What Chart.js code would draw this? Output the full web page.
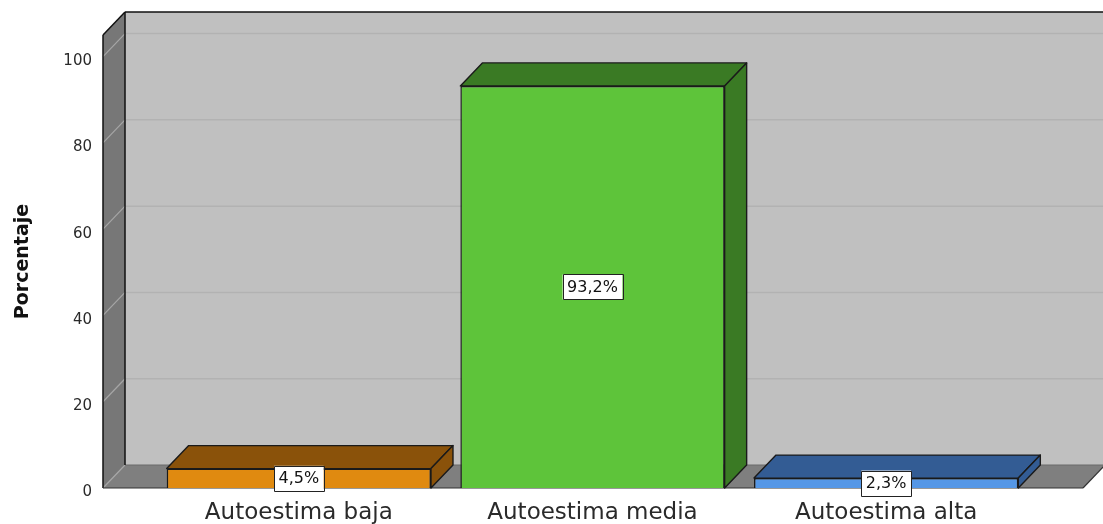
<!DOCTYPE html>
<html>
<head>
<meta charset="utf-8">
<script src="https://cdn.jsdelivr.net/npm/chart.js@4.4.1/dist/chart.umd.min.js"></script>
<style>
  html, body { margin: 0; padding: 0; background: #fff; }
  #wrap { width: 1103px; height: 524px; }
</style>
</head>
<body>
<div id="wrap"><canvas id="grafico" width="1103" height="524"></canvas></div>
<script>
const categorias = ['Autoestima baja', 'Autoestima media', 'Autoestima alta'];
const porcentajes = [4.5, 93.2, 2.3];
const ticksY = [0, 20, 40, 60, 80, 100];
const coloresFrente = ['#E08A10', '#5EC43A', '#5597E6'];
const coloresSombra = ['#8A520A', '#3A7A24', '#335C94'];

// profundidad del efecto 3D
const DX = 22, DY = 23;

function poly(ctx, pts, fill, stroke, lw) {
  ctx.beginPath();
  ctx.moveTo(pts[0][0], pts[0][1]);
  for (let i = 1; i < pts.length; i++) ctx.lineTo(pts[i][0], pts[i][1]);
  ctx.closePath();
  if (fill) { ctx.fillStyle = fill; ctx.fill(); }
  if (stroke) { ctx.strokeStyle = stroke; ctx.lineWidth = lw || 1; ctx.stroke(); }
}

function linea(ctx, xa, ya, xb, yb, color, lw) {
  ctx.beginPath();
  ctx.moveTo(xa, ya);
  ctx.lineTo(xb, yb);
  ctx.strokeStyle = color;
  ctx.lineWidth = lw;
  ctx.stroke();
}

const caja3d = {
  id: 'caja3d',
  beforeDatasetsDraw(chart) {
    const { ctx, chartArea: a, scales: { y } } = chart;
    const x0 = a.left - 49, x1 = a.right + 50;
    const yb = y.getPixelForValue(0), yt = a.top;
    const W = chart.width;
    ctx.save();
    // pared del fondo
    ctx.fillStyle = '#C0C0C0';
    ctx.fillRect(x0 + DX, yt - DY, W - x0 - DX, yb - yt);
    // pared lateral
    poly(ctx, [[x0, yt], [x0 + DX, yt - DY], [x0 + DX, yb - DY], [x0, yb]], '#777777');
    // suelo
    poly(ctx, [[x0, yb], [x1, yb], [x1 + DX, yb - DY], [x0 + DX, yb - DY]], '#7F7F7F');
    // lineas de cuadricula
    ticksY.forEach(v => {
      const py = y.getPixelForValue(v);
      if (v > 0) linea(ctx, x0 + DX, py - DY, W, py - DY, '#B2B2B2', 1.5);
      linea(ctx, x0, py, x0 + DX, py - DY, '#A6A6A6', 1.2);
    });
    linea(ctx, x0 + DX, yb - DY, W, yb - DY, '#6A6A6A', 1);
    // bordes
    ctx.lineJoin = 'round';
    linea(ctx, x0 + DX, yt - DY, W, yt - DY, '#111', 1.5);
    linea(ctx, x0, yt, x0 + DX, yt - DY, '#111', 1.5);
    linea(ctx, x0, yt, x0, yb, '#111', 1.5);
    linea(ctx, x0 + DX, yt - DY, x0 + DX, yb - DY, '#111', 1.5);
    linea(ctx, x0, yb, x1, yb, '#333', 1.2);
    linea(ctx, x1, yb, x1 + DX, yb - DY, '#333', 1.2);
    ctx.restore();
  },
  afterDatasetsDraw(chart) {
    const { ctx } = chart;
    const meta = chart.getDatasetMeta(0);
    ctx.save();
    ctx.lineJoin = 'round';
    meta.data.forEach((bar, i) => {
      const { x, y, base, width } = bar.getProps(['x', 'y', 'base', 'width'], true);
      const l = x - width / 2, r = x + width / 2;
      poly(ctx, [[l, y], [l + DX, y - DY], [r + DX, y - DY], [r, y]], coloresSombra[i], '#1a1a1a', 1.4);
      poly(ctx, [[r, y], [r + DX, y - DY], [r + DX, base - DY], [r, base]], coloresSombra[i], '#1a1a1a', 1.4);
    });
    // etiquetas de valor
    ctx.font = '16px "DejaVu Sans"';
    ctx.textAlign = 'center';
    ctx.textBaseline = 'middle';
    meta.data.forEach((bar, i) => {
      const { x, y, base } = bar.getProps(['x', 'y', 'base'], true);
      const txt = porcentajes[i].toFixed(1).replace('.', ',') + '%';
      const cy = (y + base) / 2;
      const w = ctx.measureText(txt).width + 9, h = 25;
      ctx.fillStyle = '#fff';
      ctx.fillRect(x - w / 2, cy - h / 2, w, h);
      ctx.strokeStyle = '#222';
      ctx.lineWidth = 1;
      ctx.strokeRect(Math.round(x - w / 2) + 0.5, Math.round(cy - h / 2) + 0.5, Math.round(w), h);
      ctx.fillStyle = '#111';
      ctx.fillText(txt, x, cy + 1);
    });
    ctx.restore();
  }
};

new Chart(document.getElementById('grafico').getContext('2d'), {
  type: 'bar',
  data: {
    labels: categorias,
    datasets: [{
      data: porcentajes,
      backgroundColor: coloresFrente,
      borderColor: '#1a1a1a',
      borderWidth: 1.5,
      barPercentage: 0.9,
      categoryPercentage: 1
    }]
  },
  options: {
    responsive: false,
    animation: false,
    layout: { padding: { left: 0, right: 70, top: 35, bottom: 0 } },
    plugins: { legend: { display: false }, tooltip: { enabled: false } },
    scales: {
      x: {
        grid: { display: false, drawTicks: false },
        border: { display: false },
        ticks: { font: { family: 'DejaVu Sans', size: 23 }, color: '#2a2a2a', padding: 11, maxRotation: 0, autoSkip: false },
        afterFit(s) { s.height = 36; }
      },
      y: {
        min: 0,
        max: 105,
        afterBuildTicks(s) { s.ticks = ticksY.map(v => ({ value: v })); },
        grid: { display: false, drawTicks: false },
        border: { display: false },
        ticks: {
          // linea vacia para bajar un poco la etiqueta, como en el original
          callback: v => ['', String(v)],
          font: { family: 'DejaVu Sans', size: 15, lineHeight: '9px' },
          color: '#2a2a2a',
          padding: 60
        },
        title: {
          display: true,
          text: 'Porcentaje',
          font: { family: 'DejaVu Sans', size: 19, weight: 'bold' },
          color: '#111',
          padding: { top: 12, bottom: 0 }
        },
        afterFit(s) {
          s.width = 152;
          s.paddingTop = 0;
          s.paddingBottom = 0;
        }
      }
    }
  },
  plugins: [caja3d]
});
</script>
</body>
</html>
